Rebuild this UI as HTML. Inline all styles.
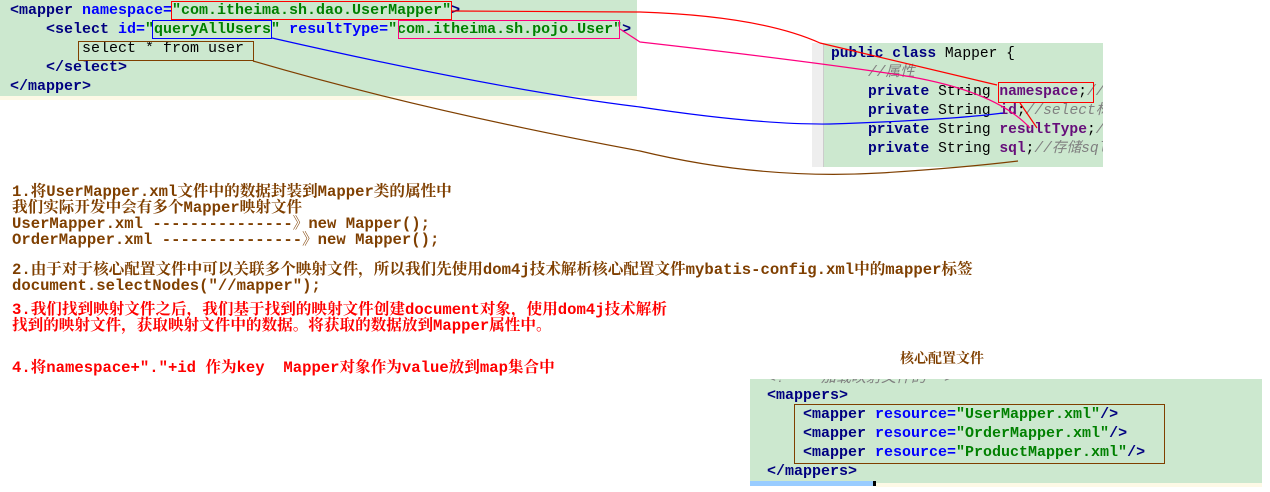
<!DOCTYPE html>
<html><head><meta charset="utf-8"><style>
body{margin:0;width:1270px;height:492px;background:#fff;position:relative;overflow:hidden;font-family:"Liberation Mono","Noto Sans CJK SC",monospace;}
.a{position:absolute;white-space:pre;}
.code{font-size:15px;font-weight:bold;line-height:19px;}
.tg{color:#000080}.at{color:#0000ff}.st{color:#008000}.pl{color:#000;font-weight:normal}
.kw{color:#000080;font-weight:bold}.fd{color:#660e7a;font-weight:bold}.cm{color:#808080;font-style:italic;font-weight:normal}
.t{font-family:"Liberation Mono","Noto Serif CJK SC","WenQuanYi Zen Hei",monospace;font-size:15.6px;font-weight:bold;line-height:16px;}
.br{color:#7f3f00}.rd{color:#ff0000}
</style></head><body>
<div class="a" style="left:0;top:0;width:637px;height:96px;background:#cce8cf"></div>
<div class="a" style="left:0;top:96px;width:637px;height:4px;background:#fdf9e6"></div>
<div class="a code" style="left:10px;top:1px"><span class="tg">&lt;mapper </span><span class="at">namespace=</span><span class="st">"com.itheima.sh.dao.UserMapper"</span><span class="tg">&gt;</span></div>
<div class="a code" style="left:46px;top:20px"><span class="tg">&lt;select </span><span class="at">id=</span><span class="st">"queryAllUsers"</span><span class="at"> resultType=</span><span class="st">"com.itheima.sh.pojo.User"</span><span class="tg">&gt;</span></div>
<div class="a code" style="left:82px;top:39px"><span class="pl">select * from user</span></div>
<div class="a code" style="left:46px;top:58px"><span class="tg">&lt;/select&gt;</span></div>
<div class="a code" style="left:10px;top:77px"><span class="tg">&lt;/mapper&gt;</span></div>
<div class="a" style="left:171px;top:1px;width:281px;height:19px;border:1px solid #f00;box-sizing:border-box"></div>
<div class="a" style="left:152px;top:20px;width:120px;height:19px;border:1px solid #00f;box-sizing:border-box"></div>
<div class="a" style="left:398px;top:20px;width:222px;height:19px;border:1px solid #ff0080;box-sizing:border-box"></div>
<div class="a" style="left:78px;top:41px;width:176px;height:20px;border:1px solid #7f3f00;box-sizing:border-box"></div>

<div class="a" style="left:812px;top:43px;width:291px;height:124px;background:#cce8cf"></div>
<div class="a" style="left:812px;top:43px;width:11px;height:124px;background:#eee"></div>
<div class="a" style="left:823px;top:43px;width:1px;height:124px;background:#ccc"></div>
<div class="a code" style="left:831px;top:45px;font-size:14.6px"><span class="kw">public class </span><span class="pl">Mapper {</span></div>
<div class="a code" style="left:868px;top:64px;font-size:14.6px"><span class="cm">//属性</span></div>
<div class="a code" style="left:868px;top:83px;font-size:14.6px;width:235px;overflow:hidden"><span class="kw">private </span><span class="pl">String </span><span class="fd">namespace</span><span class="pl">;</span><span class="cm">//</span></div>
<div class="a code" style="left:868px;top:102px;font-size:14.6px;width:235px;overflow:hidden"><span class="kw">private </span><span class="pl">String </span><span class="fd">id</span><span class="pl">;</span><span class="cm">//select标签</span></div>
<div class="a code" style="left:868px;top:121px;font-size:14.6px;width:235px;overflow:hidden"><span class="kw">private </span><span class="pl">String </span><span class="fd">resultType</span><span class="pl">;</span><span class="cm">//</span></div>
<div class="a code" style="left:868px;top:140px;font-size:14.6px;width:235px;overflow:hidden"><span class="kw">private </span><span class="pl">String </span><span class="fd">sql</span><span class="pl">;</span><span class="cm">//存储sql</span></div>
<div class="a" style="left:998px;top:82px;width:96px;height:21px;border:1px solid #f00;box-sizing:border-box"></div>

<div class="a t br" style="left:12px;top:184px">1.将UserMapper.xml文件中的数据封装到Mapper类的属性中
我们实际开发中会有多个Mapper映射文件
UserMapper.xml ---------------》new Mapper();
OrderMapper.xml ---------------》new Mapper();</div>
<div class="a t br" style="left:12px;top:262px">2.由于对于核心配置文件中可以关联多个映射文件，所以我们先使用dom4j技术解析核心配置文件mybatis-config.xml中的mapper标签
document.selectNodes("//mapper");</div>
<div class="a t rd" style="left:12px;top:302px">3.我们找到映射文件之后，我们基于找到的映射文件创建document对象，使用dom4j技术解析
找到的映射文件，获取映射文件中的数据。将获取的数据放到Mapper属性中。</div>
<div class="a t rd" style="left:12px;top:360px">4.将namespace+"."+id 作为key  Mapper对象作为value放到map集合中</div>

<div class="a t br" style="left:900px;top:352px;font-size:14px">核心配置文件</div>
<div class="a" style="left:750px;top:379px;width:512px;height:107px;background:#cce8cf"></div>
<div class="a" style="left:750px;top:481px;width:123px;height:5px;background:#99ccff"></div>
<div class="a" style="left:873px;top:481px;width:3px;height:5px;background:#000"></div>
<div class="a" style="left:876px;top:483px;width:386px;height:4px;background:#fdf9e6"></div>
<div class="a" style="left:767px;top:379px;height:7px;width:300px;overflow:hidden"><div class="a code" style="left:0;top:-10px"><span class="cm">&lt;!--  加载映射文件的--&gt;</span></div></div>
<div class="a code" style="left:767px;top:386px"><span class="tg">&lt;mappers&gt;</span></div>
<div class="a code" style="left:803px;top:405px"><span class="tg">&lt;mapper </span><span class="at">resource=</span><span class="st">"UserMapper.xml"</span><span class="tg">/&gt;</span></div>
<div class="a code" style="left:803px;top:424px"><span class="tg">&lt;mapper </span><span class="at">resource=</span><span class="st">"OrderMapper.xml"</span><span class="tg">/&gt;</span></div>
<div class="a code" style="left:803px;top:443px"><span class="tg">&lt;mapper </span><span class="at">resource=</span><span class="st">"ProductMapper.xml"</span><span class="tg">/&gt;</span></div>
<div class="a code" style="left:767px;top:462px"><span class="tg">&lt;/mappers&gt;</span></div>
<div class="a" style="left:794px;top:404px;width:371px;height:60px;border:1px solid #7f3f00;box-sizing:border-box"></div>

<svg class="a" style="left:0;top:0" width="1270" height="492">
<g fill="none" stroke-width="1.2">
<path d="M452,11 L640,12 Q760,16 820,43 L997,85" stroke="#f00"/>
<path d="M1020,103 L1037,128" stroke="#f00"/>
<path d="M620,29 L640,42 Q800,60 900,75 Q995,90 1030,128" stroke="#ff0080"/>
<path d="M272,38 Q500,90 640,107 Q760,125 830,124 Q950,120 1003,113" stroke="#00f"/>
<path d="M253,61 Q420,110 640,151 Q760,180 880,173 Q960,168 1018,161" stroke="#7f3f00"/>
</g></svg>
</body></html>
